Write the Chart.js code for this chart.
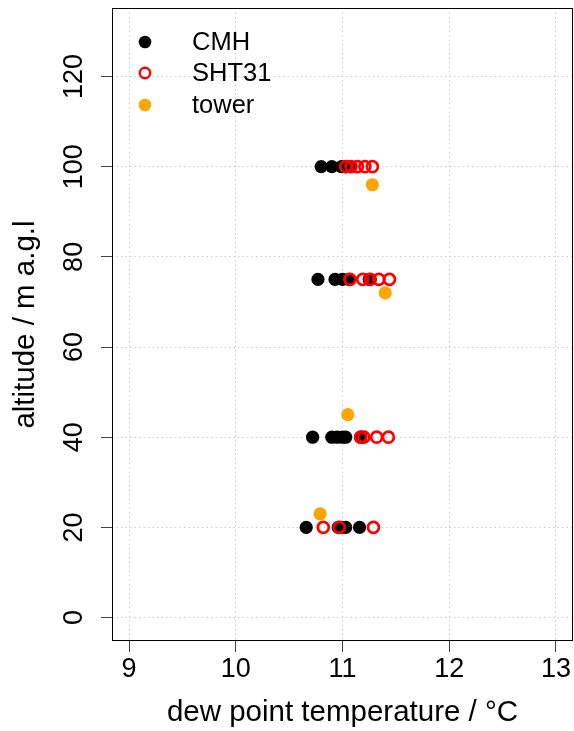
<!DOCTYPE html>
<html>
<head>
<meta charset="utf-8">
<script src="https://cdn.jsdelivr.net/npm/chart.js@4/dist/chart.umd.min.js"></script>
<style>
  html, body { margin: 0; padding: 0; background: #fff; }
</style>
</head>
<body>
<canvas id="dewChart" width="574" height="731"></canvas>
<script>
// CMH sensor readings (dew point, altitude)
const cmhTemp = [10.80, 10.90, 10.99, 11.03, 11.07,
                 10.77, 10.93, 11.00, 11.06, 11.25,
                 10.72, 10.90, 10.95, 11.00, 11.03, 11.17,
                 10.66, 10.96, 10.99, 11.03, 11.16];
const cmhAlt  = [100, 100, 100, 100, 100,
                 75, 75, 75, 75, 75,
                 40, 40, 40, 40, 40, 40,
                 20, 20, 20, 20, 20];
// SHT31 sensor readings
const shtTemp = [11.03, 11.08, 11.14, 11.21, 11.28,
                 11.07, 11.19, 11.26, 11.34, 11.44,
                 11.17, 11.20, 11.32, 11.43,
                 10.82, 10.97, 11.29];
const shtAlt  = [100, 100, 100, 100, 100,
                 75, 75, 75, 75, 75,
                 40, 40, 40, 40,
                 20, 20, 20];
// tower reference
const towerTemp = [11.28, 11.40, 11.05, 10.79];
const towerAlt  = [96, 72, 45, 23];

const seriesNames = ['CMH', 'SHT31', 'tower'];
const xTicks = [9, 10, 11, 12, 13];
const yTicks = [0, 20, 40, 60, 80, 100, 120];

const FONT = "'Liberation Sans', Arial, sans-serif";
const pts = (xs, ys) => xs.map((x, i) => ({x: x, y: ys[i]}));

// kill the extra padding chart.js adds for overflowing labels
const noOverflow = s => {
  s.paddingTop = 0; s.paddingBottom = 0;
  s.paddingLeft = 0; s.paddingRight = 0;
};

// R style box around the plot + legend inside top-left
const boxAndLegend = {
  id: 'boxAndLegend',
  afterDraw(chart) {
    const {ctx, chartArea: a} = chart;
    ctx.save();
    ctx.strokeStyle = '#000';
    ctx.lineWidth = 1;
    ctx.strokeRect(a.left + 0.5, a.top + 0.5, a.right - a.left - 1, a.bottom - a.top - 1);

    const rowsY = [42, 73, 105];
    const symX = 145, textX = 192;
    ctx.font = '25.5px ' + FONT;
    ctx.textBaseline = 'middle';
    ctx.textAlign = 'left';
    chart.data.datasets.forEach((ds, i) => {
      ctx.beginPath();
      if (ds.pointBackgroundColor === 'transparent') {
        ctx.arc(symX, rowsY[i], 5.2, 0, Math.PI * 2);
        ctx.strokeStyle = ds.pointBorderColor;
        ctx.lineWidth = 2.4;
        ctx.stroke();
      } else {
        ctx.arc(symX, rowsY[i], 6.3, 0, Math.PI * 2);
        ctx.fillStyle = ds.pointBackgroundColor;
        ctx.fill();
      }
      ctx.fillStyle = '#000';
      ctx.fillText(seriesNames[i], textX, rowsY[i] + 1);
    });
    ctx.restore();
  }
};

const ctx = document.getElementById('dewChart').getContext('2d');
const dewChart = new Chart(ctx, {
  type: 'scatter',
  data: {
    datasets: [{
      label: seriesNames[0],
      data: pts(cmhTemp, cmhAlt),
      pointRadius: 6.6,
      pointBorderWidth: 0,
      pointBackgroundColor: '#000000',
      pointBorderColor: '#000000',
      order: 3
    }, {
      label: seriesNames[1],
      data: pts(shtTemp, shtAlt),
      pointRadius: 5.5,
      pointBorderWidth: 2.7,
      pointBackgroundColor: 'transparent',
      pointBorderColor: '#ff0000',
      order: 2
    }, {
      label: seriesNames[2],
      data: pts(towerTemp, towerAlt),
      pointRadius: 6.6,
      pointBorderWidth: 0,
      pointBackgroundColor: '#ffa500',
      pointBorderColor: '#ffa500',
      order: 1
    }]
  },
  plugins: [boxAndLegend],
  options: {
    responsive: false,
    animation: false,
    layout: { autoPadding: false, padding: { top: 8, right: 1, left: 0, bottom: 0 } },
    plugins: {
      legend: { display: false },
      tooltip: { enabled: false }
    },
    scales: {
      x: {
        type: 'linear',
        min: 8.84,
        max: 13.16,
        afterBuildTicks: s => { s.ticks = xTicks.map(v => ({value: v})); },
        afterFit: s => { s.height = 90; noOverflow(s); },
        border: { display: false, dash: [1.5, 3] },
        grid: {
          color: '#cccccc',
          tickColor: '#444',
          tickLength: 11,
          tickBorderDash: []
        },
        ticks: {
          color: '#000',
          padding: 0,
          maxRotation: 0,
          font: { family: FONT, size: 27, lineHeight: 1.333 }
        },
        title: {
          display: true,
          text: 'dew point temperature / °C',
          color: '#000',
          font: { family: FONT, size: 29.5 },
          padding: { top: 0, bottom: 0 }
        }
      },
      y: {
        type: 'linear',
        min: -5.2,
        max: 135.2,
        afterBuildTicks: s => { s.ticks = yTicks.map(v => ({value: v})); },
        afterFit: s => { s.width = 112; noOverflow(s); },
        border: { display: false, dash: [1.5, 3] },
        grid: {
          color: '#cccccc',
          tickColor: '#444',
          tickLength: 11,
          tickBorderDash: []
        },
        ticks: {
          color: '#000',
          padding: 3.5,
          crossAlign: 'center',
          minRotation: 90,
          maxRotation: 90,
          font: { family: FONT, size: 27 }
        },
        title: {
          display: true,
          text: 'altitude / m a.g.l',
          color: '#000',
          font: { family: FONT, size: 29.5 },
          padding: { top: 8, bottom: 0 }
        }
      }
    }
  }
});
</script>
</body>
</html>
